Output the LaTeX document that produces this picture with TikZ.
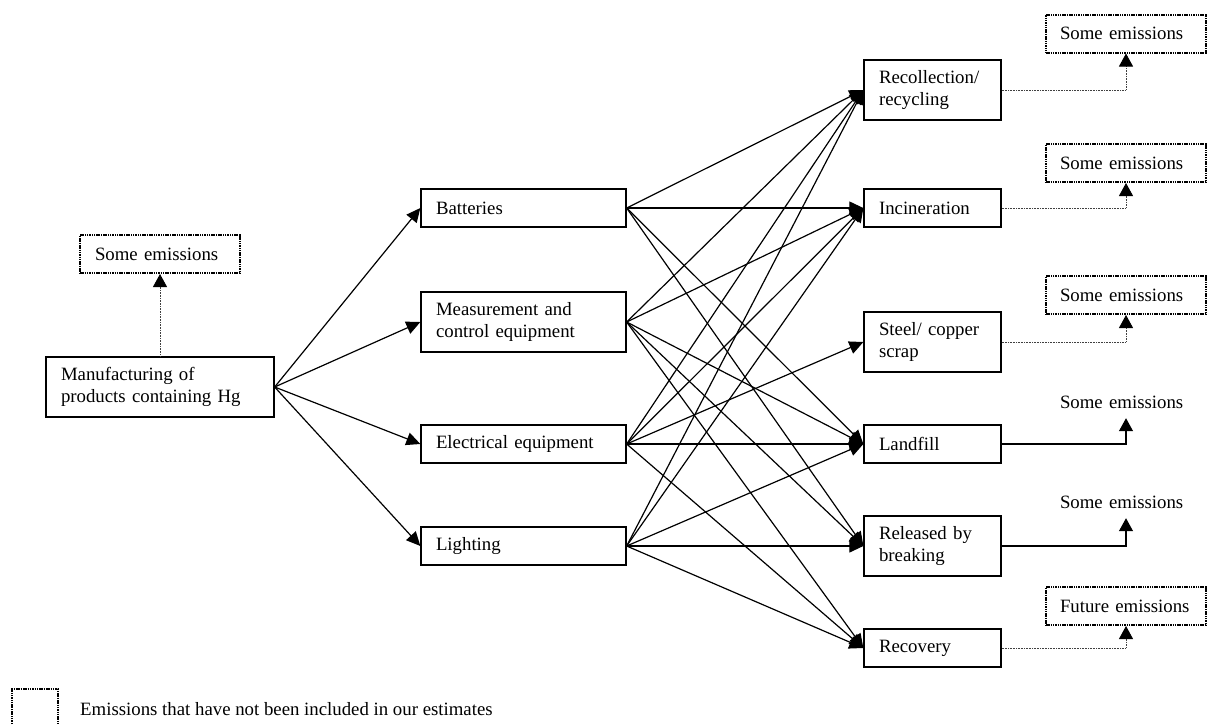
\documentclass[tikz,border=0pt]{standalone}
\usepackage{fontspec}
\setmainfont{Liberation Serif}
\usetikzlibrary{arrows.meta}
\begin{document}
\begin{tikzpicture}[x=1pt,y=-1pt,
  font=\fontsize{18.8}{22}\selectfont,
  every node/.style={inner ysep=0pt},
  box/.style={draw, line width=1.3pt, align=left, inner xsep=15pt, text width=#1},
  ebox/.style={draw, line width=2pt, dash pattern=on 1.5pt off 0.8pt, align=left, inner xsep=14pt, text width=132pt, minimum height=38pt},
  etext/.style={align=left, inner xsep=14pt, text width=132pt, minimum height=32pt},
  arr/.style={line width=1.2pt, -{Triangle[length=14pt,width=13pt]}},
  dotconn/.style={line width=0.9pt, draw=black!75, dash pattern=on 0.8pt off 0.8pt, -{Triangle[length=13pt,width=14pt,color=black]}},
  solconn/.style={line width=1.2pt, -{Triangle[length=13pt,width=14pt]}}
]
\useasboundingbox (0,0) rectangle (1208,724);

% left
\node[box=198pt, minimum height=60pt] (man) at (160,387) {Manufacturing of\\products containing Hg};
\node[ebox, text width=130pt, inner xsep=15pt] (emL) at (160,254) {Some emissions};

% middle
\node[box=175pt, minimum height=38pt] (bat) at (523.5,208) {Batteries};
\node[box=175pt, minimum height=60pt] (mea) at (523.5,322) {Measurement and\\control equipment};
\node[box=175pt, minimum height=38pt] (ele) at (523.5,444) {Electrical equipment};
\node[box=175pt, minimum height=38pt] (lig) at (523.5,546) {Lighting};

% right
\node[box=107pt, minimum height=60pt] (rec) at (932.5,90) {Recollection/\\recycling};
\node[box=107pt, minimum height=38pt] (inc) at (932.5,208) {Incineration};
\node[box=107pt, minimum height=60pt] (ste) at (932.5,342) {Steel/ copper\\scrap};
\node[box=107pt, minimum height=38pt] (lan) at (932.5,444) {Landfill};
\node[box=107pt, minimum height=60pt] (rel) at (932.5,546) {Released by\\breaking};
\node[box=107pt, minimum height=38pt] (rcv) at (932.5,648) {Recovery};

% emissions
\node[ebox] (e1) at (1126,33.5) {Some emissions};
\node[ebox] (e2) at (1126,163) {Some emissions};
\node[ebox] (e3) at (1126,295) {Some emissions};
\node[etext] (p1) at (1126,402) {Some emissions};
\node[etext] (p2) at (1126,502) {Some emissions};
\node[ebox] (e4) at (1126,606) {Future emissions};

% connectors left
\draw[dotconn] (man.north) -- (emL.south);
\foreach \t in {bat,mea,ele,lig} \draw[arr] (man.east) -- (\t.west);

% connectors middle -> right
\foreach \t in {rec,inc,lan,rel} \draw[arr] (bat.east) -- (\t.west);
\foreach \t in {rec,inc,lan,rel,rcv} \draw[arr] (mea.east) -- (\t.west);
\foreach \t in {rec,inc,ste,lan,rcv} \draw[arr] (ele.east) -- (\t.west);
\foreach \t in {rec,inc,lan,rel,rcv} \draw[arr] (lig.east) -- (\t.west);

% right -> emissions
\draw[dotconn] (rec.east) -| (e1.south);
\draw[dotconn] (inc.east) -| (e2.south);
\draw[dotconn] (ste.east) -| (e3.south);
\draw[solconn] (lan.east) -| (p1.south);
\draw[solconn] (rel.east) -| (p2.south);
\draw[dotconn] (rcv.east) -| (e4.south);

% legend
\draw[line width=2pt, dash pattern=on 1.5pt off 0.8pt] (12,724) -- (12,689) -- (58,689) -- (58,724);
\node[anchor=base west, inner sep=0pt] (leg) at (80,715) {Emissions that have not been included in our estimates};
\end{tikzpicture}
\end{document}
